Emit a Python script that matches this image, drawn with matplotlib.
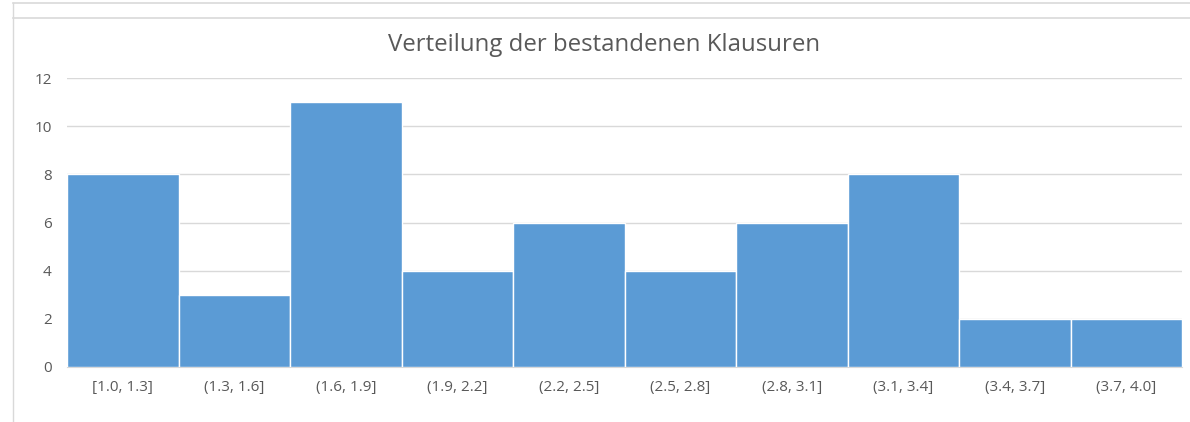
import matplotlib.pyplot as plt
from matplotlib.lines import Line2D

# =========================
# 데이터
# =========================
categories = ["[1.0, 1.3]", "(1.3, 1.6]", "(1.6, 1.9]", "(1.9, 2.2]", "(2.2, 2.5]",
              "(2.5, 2.8]", "(2.8, 3.1]", "(3.1, 3.4]", "(3.4, 3.7]", "(3.7, 4.0]"]
counts = [8, 3, 11, 4, 6, 4, 6, 8, 2, 2]
y_ticks = [0, 2, 4, 6, 8, 10, 12]

BAR_COLOR = "#5B9BD5"
TEXT_COLOR = "#595959"
GRID_COLOR = "#D9D9D9"

plt.rcParams["font.family"] = ["Open Sans", "DejaVu Sans"]

fig = plt.figure(figsize=(11.9, 4.22), dpi=100)
ax = fig.add_axes([67 / 1190, 1 - 367 / 422, (1182 - 67) / 1190, (367 - 78) / 422])

x = list(range(len(categories)))
ax.bar(x, counts, width=1.0, color=BAR_COLOR, edgecolor="white", linewidth=1.0, zorder=3)

ax.set_xlim(-0.5, len(categories) - 0.5)
ax.set_ylim(0, 12)
ax.set_yticks(y_ticks)
ax.set_xticks(x)
ax.set_xticklabels(categories)
ax.tick_params(axis="both", length=0, colors=TEXT_COLOR, labelsize=11)
ax.tick_params(axis="x", pad=9)
ax.tick_params(axis="y", pad=11)
ax.grid(axis="y", color=GRID_COLOR, linewidth=1.0, zorder=0)
for s in ["top", "right", "left"]:
    ax.spines[s].set_visible(False)
ax.spines["bottom"].set_color(GRID_COLOR)

fig.text(604 / 1190, 1 - 45 / 422, "Verteilung der bestandenen Klausuren",
         ha="center", va="center", fontsize=17.3, color=TEXT_COLOR)

# 바깥 테두리 (스크린샷 프레임)
fig.add_artist(Line2D([13 / 1190, 1], [1 - 3 / 422, 1 - 3 / 422], color=GRID_COLOR, lw=1.2))
fig.add_artist(Line2D([13 / 1190, 1], [1 - 18 / 422, 1 - 18 / 422], color=GRID_COLOR, lw=1.2))
fig.add_artist(Line2D([13 / 1190, 13 / 1190], [0, 1 - 3 / 422], color=GRID_COLOR, lw=1.0))

fig.savefig("out.png", dpi=100)
